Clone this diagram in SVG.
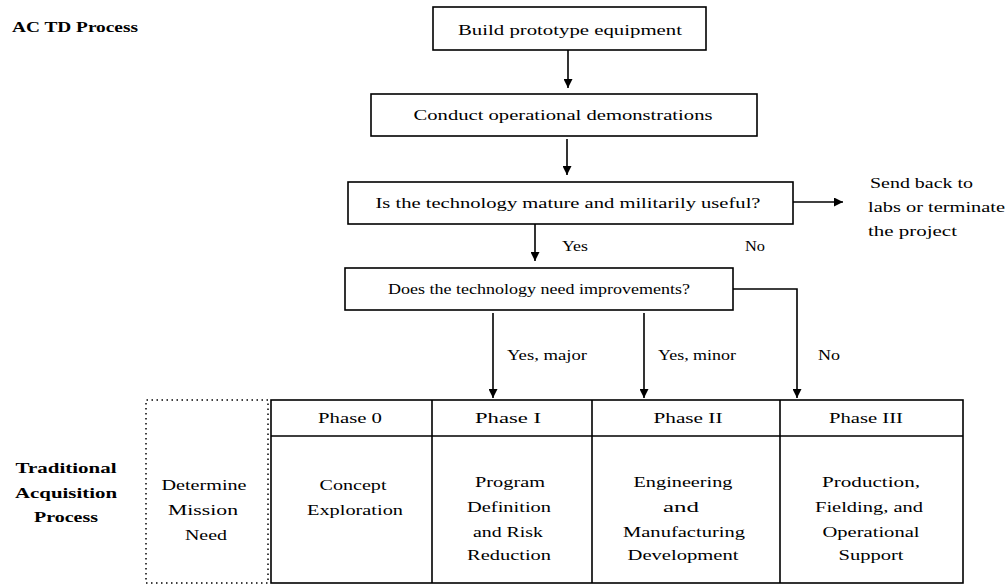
<svg xmlns="http://www.w3.org/2000/svg" width="1008" height="585" viewBox="0 0 1008 585" font-family="'Liberation Serif', 'DejaVu Serif', serif">
  <defs>
    <marker id="arrow" viewBox="0 0 10 10" refX="10" refY="5" markerWidth="9" markerHeight="9" markerUnits="userSpaceOnUse" orient="auto">
      <path d="M0,0 L10,5 L0,10 Z" fill="#000"/>
    </marker>
    <style>
      text { font-family: 'Liberation Serif', 'DejaVu Serif', serif; font-size: 15px; fill: #000; }
      .c { text-anchor: middle; }
      .b { font-weight: bold; }
      .box { fill: #fff; stroke: #000; stroke-width: 1.6; }
      .grid { fill: none; stroke: #000; stroke-width: 1.6; }
      .dot { fill: none; stroke: #000; stroke-width: 1.5; stroke-dasharray: 1.5 3.5; }
      .edge { fill: none; stroke: #000; stroke-width: 1.6; marker-end: url(#arrow); }
    </style>
  </defs>

  <rect width="1008" height="585" fill="#fff"/>

  <!-- section titles -->
  <text class="b" x="12" y="32" textLength="126" lengthAdjust="spacingAndGlyphs">AC TD Process</text>
  <g class="b">
    <text class="c" x="66" y="473" textLength="101" lengthAdjust="spacingAndGlyphs">Traditional</text>
    <text class="c" x="66" y="498" textLength="102" lengthAdjust="spacingAndGlyphs">Acquisition</text>
    <text class="c" x="66" y="522" textLength="64" lengthAdjust="spacingAndGlyphs">Process</text>
  </g>

  <!-- ACTD steps -->
  <g id="build">
    <rect class="box" x="433" y="7" width="273" height="43"/>
    <text class="c" x="570" y="35" textLength="224" lengthAdjust="spacingAndGlyphs">Build prototype equipment</text>
  </g>
  <g id="demo">
    <rect class="box" x="371" y="94" width="386" height="42"/>
    <text class="c" x="563" y="120" textLength="299" lengthAdjust="spacingAndGlyphs">Conduct operational demonstrations</text>
  </g>
  <g id="mature">
    <rect class="box" x="348" y="182" width="445" height="42"/>
    <text class="c" x="568" y="208" textLength="385" lengthAdjust="spacingAndGlyphs">Is the technology mature and militarily useful?</text>
  </g>
  <g id="terminate">
    <text x="870" y="188" textLength="103" lengthAdjust="spacingAndGlyphs">Send back to</text>
    <text x="868" y="212" textLength="137" lengthAdjust="spacingAndGlyphs">labs or terminate</text>
    <text x="868" y="236" textLength="89" lengthAdjust="spacingAndGlyphs">the project</text>
  </g>
  <g id="improve">
    <rect class="box" x="345" y="268" width="388" height="42"/>
    <text class="c" x="539" y="294" textLength="302" lengthAdjust="spacingAndGlyphs">Does the technology need improvements?</text>
  </g>

  <!-- connectors -->
  <g id="connectors">
    <path class="edge" d="M568,50 V88"/>
    <path class="edge" d="M567,139 V175"/>
    <path class="edge" d="M793,202 H843"/>
    <path class="edge" d="M535,224 V261"/>
    <path class="edge" d="M493,313 V398"/>
    <path class="edge" d="M644,313 V398"/>
    <path class="edge" d="M733,289 H797 V398"/>
  </g>

  <!-- connector labels -->
  <g id="labels">
    <text x="562" y="251" textLength="26" lengthAdjust="spacingAndGlyphs">Yes</text>
    <text x="745" y="251" textLength="20" lengthAdjust="spacingAndGlyphs">No</text>
    <text x="507" y="360" textLength="80" lengthAdjust="spacingAndGlyphs">Yes, major</text>
    <text x="658" y="360" textLength="78" lengthAdjust="spacingAndGlyphs">Yes, minor</text>
    <text x="818" y="360" textLength="22" lengthAdjust="spacingAndGlyphs">No</text>
  </g>

  <!-- pre-phase: mission need -->
  <g id="mission-need">
    <path class="dot" d="M268,400 H146 V583 H268 V400"/>
    <text class="c" x="204" y="490" textLength="85" lengthAdjust="spacingAndGlyphs">Determine</text>
    <text class="c" x="203" y="515" textLength="70" lengthAdjust="spacingAndGlyphs">Mission</text>
    <text class="c" x="206" y="540" textLength="42" lengthAdjust="spacingAndGlyphs">Need</text>
  </g>

  <!-- acquisition phases table -->
  <g id="phase-table">
    <rect class="grid" x="271" y="400" width="692" height="183"/>
    <path class="grid" d="M271,436 H963 M432,400 V583 M592,400 V583 M780,400 V583"/>
  </g>
  <g id="phase0">
    <text class="c" x="350" y="423" textLength="64" lengthAdjust="spacingAndGlyphs">Phase 0</text>
    <text class="c" x="353" y="490" textLength="67" lengthAdjust="spacingAndGlyphs">Concept</text>
    <text class="c" x="355" y="515" textLength="96" lengthAdjust="spacingAndGlyphs">Exploration</text>
  </g>
  <g id="phase1">
    <text class="c" x="508" y="423" textLength="66" lengthAdjust="spacingAndGlyphs">Phase I</text>
    <text class="c" x="510" y="487" textLength="70" lengthAdjust="spacingAndGlyphs">Program</text>
    <text class="c" x="509" y="512" textLength="84" lengthAdjust="spacingAndGlyphs">Definition</text>
    <text class="c" x="508" y="537" textLength="70" lengthAdjust="spacingAndGlyphs">and Risk</text>
    <text class="c" x="509" y="560" textLength="84" lengthAdjust="spacingAndGlyphs">Reduction</text>
  </g>
  <g id="phase2">
    <text class="c" x="688" y="423" textLength="69" lengthAdjust="spacingAndGlyphs">Phase II</text>
    <text class="c" x="683" y="487" textLength="99" lengthAdjust="spacingAndGlyphs">Engineering</text>
    <text class="c" x="681" y="512" textLength="36" lengthAdjust="spacingAndGlyphs">and</text>
    <text class="c" x="684" y="537" textLength="122" lengthAdjust="spacingAndGlyphs">Manufacturing</text>
    <text class="c" x="683" y="560" textLength="111" lengthAdjust="spacingAndGlyphs">Development</text>
  </g>
  <g id="phase3">
    <text class="c" x="866" y="423" textLength="74" lengthAdjust="spacingAndGlyphs">Phase III</text>
    <text class="c" x="871" y="487" textLength="98" lengthAdjust="spacingAndGlyphs">Production,</text>
    <text class="c" x="869" y="512" textLength="108" lengthAdjust="spacingAndGlyphs">Fielding, and</text>
    <text class="c" x="871" y="537" textLength="97" lengthAdjust="spacingAndGlyphs">Operational</text>
    <text class="c" x="871" y="560" textLength="65" lengthAdjust="spacingAndGlyphs">Support</text>
  </g>
</svg>
